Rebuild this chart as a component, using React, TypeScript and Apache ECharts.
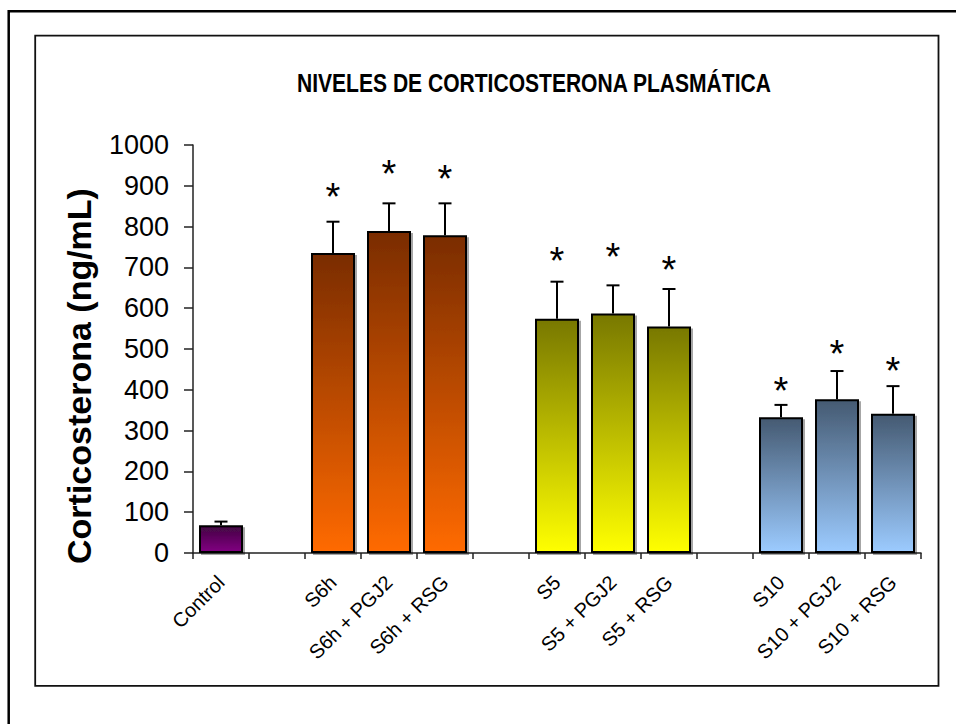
import React, { useEffect, useRef } from 'react';
import * as echarts from 'echarts';

const categories = ['Control', '', 'S6h', 'S6h + PGJ2', 'S6h + RSG', '', 'S5', 'S5 + PGJ2', 'S5 + RSG', '', 'S10', 'S10 + PGJ2', 'S10 + RSG'];
const means: (number | null)[] = [68, null, 735, 789, 779, null, 574, 587, 555, null, 333, 377, 341];
const errors: (number | null)[] = [9, null, 77, 68, 78, null, 91, 69, 92, null, 30, 69, 68];
const asteriskLevels: (number | null)[] = [null, null, 895, 951, 939, null, 738, 748, 716, null, 420, 510, 469];
const groupOf: (number | null)[] = [0, null, 1, 1, 1, null, 2, 2, 2, null, 3, 3, 3];
const groupTop = ['#420842', '#7a2c00', '#787800', '#455a72'];
const groupBottom = ['#820082', '#ff6a00', '#ffff00', '#9ccbff'];
const yTicks = { min: 0, max: 1000, interval: 100 };
const titleText = 'NIVELES DE CORTICOSTERONA PLASMÁTICA';
const yTitle = 'Corticosterona (ng/mL)';

const FONT = '"Liberation Sans", Arial, sans-serif';

export default function App() {
  const ref = useRef<HTMLDivElement>(null);
  useEffect(() => {
    const chart = echarts.init(ref.current!, null, { renderer: 'svg' });
    const grad = (g: number) =>
      new echarts.graphic.LinearGradient(0, 0, 0, 1, [
        { offset: 0, color: groupTop[g] },
        { offset: 1, color: groupBottom[g] },
      ]);
    const barData = means.map((v, i) =>
      v == null ? '-' : { value: v, itemStyle: { color: grad(groupOf[i] as number) } }
    );
    const errData = means
      .map((v, i) => (v == null ? null : [i, v, errors[i] as number]))
      .filter((d) => d != null);
    const starData = asteriskLevels
      .map((v, i) => (v == null ? null : [i, v]))
      .filter((d) => d != null);

    chart.setOption({
      animation: false,
      backgroundColor: '#fff',
      grid: { left: 193, right: 35, top: 145, bottom: 171, containLabel: false },
      xAxis: {
        type: 'category',
        data: categories,
        boundaryGap: true,
        axisLine: { lineStyle: { color: '#222', width: 1.5 } },
        axisTick: { show: true, alignWithLabel: false, interval: 0, length: 6, lineStyle: { color: '#222', width: 1.5 } },
        axisLabel: {
          interval: 0,
          rotate: 45,
          margin: 26,
          fontSize: 20,
          color: '#000',
          fontFamily: FONT,
        },
        splitLine: { show: false },
      },
      yAxis: {
        type: 'value',
        min: yTicks.min,
        max: yTicks.max,
        interval: yTicks.interval,
        axisLine: { show: true, lineStyle: { color: '#222', width: 1.5 } },
        axisTick: { show: true, length: 9, lineStyle: { color: '#222', width: 1.5 } },
        axisLabel: { fontSize: 27, color: '#000', fontFamily: FONT, margin: 24, formatter: (v: number) => String(v) },
        splitLine: { show: false },
      },
      series: [
        {
          type: 'bar',
          data: barData,
          barWidth: 44,
          itemStyle: {
            borderColor: '#000',
            borderWidth: 2,
            shadowColor: 'rgba(0,0,0,0.35)',
            shadowOffsetX: 2,
            shadowOffsetY: 2,
            shadowBlur: 0,
          },
          z: 2,
        },
        {
          type: 'custom',
          data: errData,
          encode: { x: 0, y: 1 },
          z: 3,
          renderItem: (params: any, api: any) => {
            const i = api.value(0);
            const m = api.value(1);
            const e = api.value(2);
            const base = api.coord([i, m]);
            const top = api.coord([i, m + e]);
            const cap = 6.5;
            return {
              type: 'group',
              children: [
                { type: 'line', shape: { x1: base[0], y1: base[1], x2: top[0], y2: top[1] }, style: { stroke: '#000', lineWidth: 2 } },
                { type: 'line', shape: { x1: top[0] - cap, y1: top[1], x2: top[0] + cap, y2: top[1] }, style: { stroke: '#000', lineWidth: 2 } },
              ],
            };
          },
        },
        {
          type: 'custom',
          data: starData,
          encode: { x: 0, y: 1 },
          z: 3,
          renderItem: (params: any, api: any) => {
            const p = api.coord([api.value(0), api.value(1)]);
            return {
              type: 'text',
              x: p[0],
              y: p[1] + 9,
              style: { text: '*', fontSize: 38, fontFamily: FONT, fill: '#000', align: 'center', verticalAlign: 'middle' },
            };
          },
        },
      ],
      graphic: [
        { type: 'rect', shape: { x: 8.7, y: 11.3, width: 1200, height: 1200 }, style: { fill: 'none', stroke: '#000', lineWidth: 2.5 }, silent: true },
        { type: 'rect', shape: { x: 35.2, y: 35.7, width: 903.3, height: 650.1 }, style: { fill: 'none', stroke: '#111', lineWidth: 1.8 }, silent: true },
        {
          type: 'text',
          x: 297,
          y: 83,
          scaleX: 0.81,
          style: { text: titleText, fontSize: 26, fontWeight: 'bold', fontFamily: FONT, fill: '#000', align: 'left', verticalAlign: 'middle' },
        },
        {
          type: 'text',
          x: 79,
          y: 376,
          rotation: Math.PI / 2,
          style: { text: yTitle, fontSize: 34, fontWeight: 'bold', fontFamily: FONT, fill: '#000', align: 'center', verticalAlign: 'middle' },
        },
      ],
    });
    return () => chart.dispose();
  }, []);
  return <div ref={ref} style={{ position: 'absolute', left: 0, top: 0, width: 956, height: 724 }} />;
}
